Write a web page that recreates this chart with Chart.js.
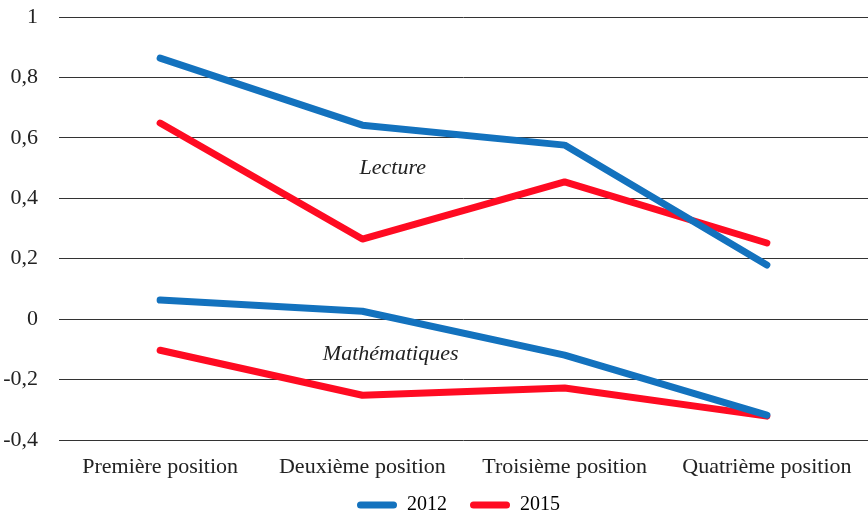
<!DOCTYPE html>
<html>
<head>
<meta charset="utf-8">
<script src="https://cdn.jsdelivr.net/npm/chart.js@4/dist/chart.umd.min.js"></script>
<style>
  html, body { margin: 0; padding: 0; background: #fff; }
  #wrap { width: 868px; height: 520px; }
</style>
</head>
<body>
<div id="wrap"><canvas id="chart"></canvas></div>
<script>
// categories and values
const categories = ['Première position', 'Deuxième position', 'Troisième position', 'Quatrième position'];
const lecture2012 = [0.864, 0.642, 0.576, 0.179];
const lecture2015 = [0.649, 0.265, 0.454, 0.252];
const maths2012 = [0.063, 0.026, -0.119, -0.318];
const maths2015 = [-0.103, -0.252, -0.228, -0.321];

const blue = '#1372be';
const red = '#ff0b22';
const serif = "'Liberation Serif', 'Times New Roman', serif";

// labels written on the chart, placed in data coordinates
const notes = [
  { text: 'Lecture', x: 1.15, y: 0.5 },
  { text: 'Mathématiques', x: 1.14, y: -0.116 }
];

const notesPlugin = {
  id: 'notes',
  afterDatasetsDraw(chart) {
    const ctx = chart.ctx;
    const xs = chart.scales.x, ys = chart.scales.y;
    ctx.save();
    ctx.font = 'italic 22px ' + serif;
    ctx.fillStyle = '#222';
    ctx.textAlign = 'center';
    ctx.textBaseline = 'middle';
    notes.forEach(n => {
      ctx.fillText(n.text, xs.getPixelForValue(n.x), ys.getPixelForValue(n.y));
    });
    ctx.restore();
  }
};

function line(label, data, color) {
  return {
    label: label,
    data: data,
    borderColor: color,
    backgroundColor: color,
    borderWidth: 7,
    borderCapStyle: 'round',
    borderJoinStyle: 'round',
    pointRadius: 0,
    tension: 0
  };
}

new Chart(document.getElementById('chart'), {
  type: 'line',
  data: {
    labels: categories,
    datasets: [
      line('2012', lecture2012, blue),
      line('2015', lecture2015, red),
      line('2012 maths', maths2012, blue),
      line('2015 maths', maths2015, red)
    ]
  },
  options: {
    responsive: true,
    maintainAspectRatio: false,
    animation: false,
    layout: { padding: { top: 17, right: 0, left: 0, bottom: -5 } },
    scales: {
      x: {
        offset: true,
        grid: { display: false, drawTicks: false },
        border: { display: false },
        ticks: { color: '#222', font: { family: serif, size: 22 }, padding: 14, maxRotation: 0 },
        afterFit: s => { s.height = 42; s.paddingLeft = 0; s.paddingRight = 0; }
      },
      y: {
        min: -0.4,
        max: 1,
        grid: { color: '#333', lineWidth: 1, drawTicks: false },
        border: { display: false },
        ticks: {
          stepSize: 0.2,
          color: '#222',
          padding: 21,
          font: { family: serif, size: 22 },
          callback: v => (Math.round(v * 10) / 10).toString().replace('.', ',')
        },
        afterFit: s => { s.width = 59; s.paddingTop = 0; s.paddingBottom = 0; }
      }
    },
    plugins: {
      tooltip: { enabled: false },
      legend: {
        position: 'bottom',
        fullSize: false,
        labels: {
          color: '#222',
          font: { family: serif, size: 20 },
          boxWidth: 40,
          boxHeight: 7,
          useBorderRadius: true,
          borderRadius: 3.5,
          padding: 13,
          filter: item => item.datasetIndex < 2,
          generateLabels(chart) {
            // two trailing spaces widen the gap between the two entries
            return chart.data.datasets.map((ds, i) => ({
              text: ds.label + '  ',
              fillStyle: ds.borderColor,
              strokeStyle: ds.borderColor,
              lineWidth: 0,
              borderRadius: 3.5,
              datasetIndex: i
            }));
          }
        }
      }
    }
  },
  plugins: [notesPlugin]
});
</script>
</body>
</html>
